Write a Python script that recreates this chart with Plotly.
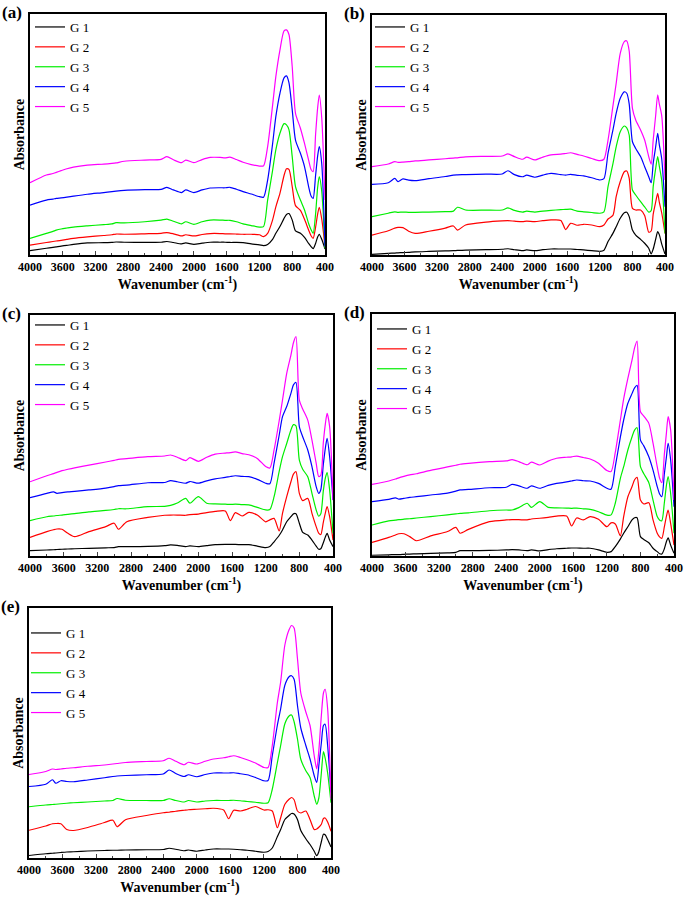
import plotly.graph_objects as go

# ---------------- data ----------------
wavenumber = [4000, 3800, 3720, 3680, 3620, 3550, 3470, 3300, 3100, 3000,
              2950, 2850, 2600, 2400, 2330, 2250, 2150, 2100, 2000, 1900,
              1800, 1680, 1620, 1560, 1480, 1400, 1300, 1200, 1150, 1100,
              1040, 1000, 950, 900, 870, 840, 800, 760, 700, 650,
              600, 570, 545, 515, 490, 470, 440, 400]

series_names = ["G 1", "G 2", "G 3", "G 4", "G 5"]
panel_labels = ["(a)", "(b)", "(c)", "(d)", "(e)"]
tick_vals = [4000, 3600, 3200, 2800, 2400, 2000, 1600, 1200, 800, 400]
tick_text = ["4000", "3600", "3200", "2800", "2400", "2000", "1600", "1200", "800", "400"]

# panel (a)
a_g1 = [1.8, 2.8, 3.2, 3.4, 3.7, 4.0, 4.4, 5.0, 5.1, 5.2, 5.4, 5.3, 5.2, 5.3, 5.6, 5.2, 4.6, 5.0, 4.4, 4.9,
        5.3, 5.3, 5.3, 5.2, 5.2, 5.1, 4.6, 4.2, 3.9, 4.4, 6.5, 9.0, 11.8, 15.2, 16.8, 17.2, 14.5, 10.0, 9.0, 7.3,
        4.8, 3.5, 2.6, 4.8, 7.5, 8.6, 6.5, 2.5]
a_g2 = [4.1, 5.2, 5.6, 5.8, 6.1, 6.5, 6.9, 7.5, 8.1, 8.4, 8.7, 8.6, 8.8, 9.0, 9.3, 8.8, 7.9, 8.4, 7.9, 8.5,
        8.9, 8.9, 8.8, 8.8, 8.7, 8.6, 8.6, 8.4, 7.6, 9.0, 14.5, 20.0, 25.6, 33.0, 35.8, 35.5, 28.4, 20.5, 18.5, 14.8,
        10.4, 8.0, 6.9, 11.5, 17.0, 19.8, 15.0, 3.5]
a_g3 = [6.9, 9.0, 9.8, 10.3, 10.8, 11.2, 11.6, 12.1, 12.6, 12.9, 13.4, 13.3, 13.8, 14.5, 14.9, 14.0, 12.9, 13.8, 12.7, 13.8,
        14.5, 14.5, 14.4, 14.4, 13.8, 12.9, 12.2, 11.6, 11.8, 22.8, 35.0, 43.6, 50.5, 54.5, 54.0, 52.0, 40.8, 28.4, 22.8, 18.7,
        13.1, 10.5, 9.0, 17.0, 28.0, 32.5, 26.5, 2.8]
a_g4 = [20.7, 22.8, 23.2, 23.5, 23.7, 24.0, 24.4, 25.2, 25.9, 26.3, 26.5, 26.8, 27.1, 27.2, 28.1, 27.0, 25.9, 27.0, 25.9, 27.0,
        27.8, 27.9, 27.9, 28.1, 27.3, 26.3, 25.3, 24.2, 24.0, 31.1, 46.0, 57.4, 67.1, 73.5, 74.3, 71.5, 60.2, 47.7, 42.2, 36.7,
        28.4, 24.5, 23.5, 33.0, 41.0, 45.0, 38.0, 3.5]
a_g5 = [30.0, 33.2, 33.8, 34.3, 35.0, 35.8, 36.5, 37.3, 37.7, 38.0, 38.2, 38.9, 39.4, 39.7, 40.8, 39.5, 38.3, 39.4, 38.3, 39.6,
        40.5, 40.5, 40.3, 40.6, 39.6, 38.5, 37.5, 36.9, 37.0, 45.0, 62.0, 74.0, 85.0, 93.0, 93.4, 91.5, 78.1, 58.8, 52.6, 46.3,
        39.4, 35.5, 34.6, 50.0, 61.0, 66.4, 57.0, 22.8]

# panel (b)
b_g1 = [0.3, 0.7, 0.8, 0.9, 1.0, 1.1, 1.3, 1.5, 1.7, 1.8, 1.9, 2.0, 2.2, 2.4, 2.6, 2.2, 1.8, 2.1, 1.8, 2.2,
        2.5, 2.5, 2.5, 2.5, 2.3, 2.1, 1.8, 1.5, 2.0, 5.6, 9.0, 11.8, 15.3, 17.6, 17.8, 16.0, 10.4, 8.3, 6.5, 4.9,
        2.8, 0.5, 2.5, 6.5, 9.8, 8.5, 4.5, 0.4]
b_g2 = [8.3, 10.1, 11.2, 11.5, 11.4, 9.9, 9.0, 9.9, 11.2, 12.1, 10.4, 12.5, 13.7, 14.2, 14.3, 14.1, 13.9, 14.1, 13.9, 14.3,
        14.6, 14.4, 10.6, 13.2, 12.4, 12.8, 12.5, 11.8, 12.5, 15.0, 16.5, 24.3, 30.6, 34.7, 35.0, 32.0, 19.4, 18.75, 18.75, 16.5,
        9.5, 10.0, 17.0, 22.0, 25.7, 22.0, 17.5, 9.0]
b_g3 = [16.0, 17.4, 18.0, 17.8, 17.9, 17.8, 17.8, 17.9, 18.1, 18.3, 19.9, 18.75, 18.7, 18.75, 19.6, 18.6, 17.9, 18.3, 17.9, 18.3,
        18.6, 18.9, 19.0, 19.1, 18.3, 18.0, 17.7, 17.4, 18.0, 28.5, 38.0, 45.1, 51.4, 53.75, 53.0, 50.0, 27.1, 25.0, 22.2, 20.1,
        17.9, 18.5, 28.5, 36.0, 41.0, 37.0, 31.0, 9.0]
b_g4 = [29.4, 30.1, 31.9, 30.6, 31.7, 31.2, 31.0, 31.8, 32.7, 33.3, 33.4, 33.5, 33.7, 33.75, 35.1, 33.5, 32.6, 33.3, 32.4, 33.3,
        34.0, 33.5, 33.3, 33.6, 33.2, 33.0, 32.2, 31.25, 31.8, 42.4, 52.0, 59.0, 65.3, 68.0, 67.4, 63.0, 47.2, 44.4, 41.0, 36.8,
        32.6, 30.1, 38.2, 45.0, 50.7, 46.0, 40.0, 20.1]
b_g5 = [36.8, 37.9, 38.9, 38.6, 38.7, 38.9, 39.2, 39.6, 40.1, 40.4, 40.5, 40.9, 41.1, 41.25, 42.1, 41.0, 39.9, 40.8, 39.6, 40.8,
        41.7, 42.0, 42.3, 42.6, 41.9, 41.25, 40.2, 39.3, 39.9, 47.9, 62.0, 71.5, 84.0, 88.9, 89.2, 85.0, 61.1, 56.25, 52.1, 47.9,
        41.0, 37.9, 47.9, 58.0, 66.7, 63.0, 58.0, 31.25]

# panel (c)
c_g1 = [2.2, 2.5, 2.6, 2.7, 2.8, 2.9, 3.0, 3.2, 3.4, 3.5, 3.9, 3.9, 4.0, 4.3, 4.6, 4.4, 3.9, 4.2, 3.9, 4.3,
        4.7, 4.8, 4.8, 4.8, 4.7, 4.7, 4.1, 3.5, 3.9, 5.9, 8.5, 10.8, 14.2, 16.3, 17.5, 17.5, 13.6, 9.8, 8.7, 6.6,
        4.1, 2.8, 3.0, 5.5, 8.0, 9.4, 6.6, 3.9]
c_g2 = [7.7, 10.1, 10.9, 11.2, 11.1, 9.4, 8.0, 10.1, 12.2, 13.6, 11.1, 14.2, 16.0, 16.9, 17.0, 17.0, 16.9, 17.2, 17.4, 18.0,
        18.5, 18.7, 14.7, 18.0, 16.6, 18.1, 17.0, 14.2, 15.0, 15.6, 10.4, 17.7, 24.6, 30.8, 34.0, 35.0, 26.0, 23.0, 23.9, 17.7,
        12.2, 9.5, 8.9, 14.0, 18.0, 20.5, 16.3, 6.6]
c_g3 = [14.7, 16.3, 16.6, 16.8, 17.0, 17.3, 17.6, 18.3, 18.9, 19.3, 19.6, 19.6, 20.5, 20.6, 21.0, 22.0, 23.9, 21.9, 24.6, 21.9,
        21.6, 21.5, 21.4, 21.5, 21.3, 21.2, 20.2, 19.1, 19.3, 24.6, 35.0, 41.2, 46.7, 52.3, 54.5, 54.0, 39.8, 36.0, 32.9, 26.0,
        19.1, 16.5, 17.5, 27.0, 32.5, 34.6, 27.4, 9.4]
c_g4 = [24.2, 26.0, 26.6, 26.0, 26.3, 26.6, 26.8, 27.4, 28.2, 28.8, 29.2, 29.4, 30.4, 30.5, 31.3, 30.8, 30.2, 30.9, 30.2, 31.2,
        32.0, 32.6, 33.0, 33.3, 33.0, 32.9, 31.8, 30.2, 30.0, 38.5, 50.0, 57.8, 62.0, 67.5, 71.0, 72.0, 53.7, 49.5, 44.0, 37.1,
        28.8, 26.0, 27.5, 38.0, 45.0, 48.8, 41.2, 23.2]
c_g5 = [30.8, 33.3, 34.2, 34.7, 35.4, 36.0, 36.6, 37.7, 39.0, 39.7, 40.1, 40.4, 41.2, 41.5, 41.9, 41.0, 39.6, 40.8, 39.3, 41.0,
        42.3, 42.7, 42.9, 43.2, 42.5, 42.0, 40.5, 37.1, 36.5, 44.0, 56.0, 64.7, 75.8, 83.4, 88.5, 91.0, 64.7, 61.0, 56.4, 48.1,
        38.5, 33.0, 33.5, 47.0, 55.0, 59.2, 53.7, 23.2]

# panel (d)
d_g1 = [0.3, 0.5, 0.6, 0.6, 0.7, 0.8, 0.9, 1.1, 1.3, 1.5, 2.2, 2.2, 2.3, 2.5, 2.6, 2.5, 2.2, 2.5, 2.1, 2.6,
        3.0, 3.2, 3.3, 3.3, 3.2, 3.2, 2.5, 1.5, 1.8, 3.9, 7.0, 9.4, 12.1, 14.9, 15.8, 15.8, 8.0, 6.8, 5.5, 3.2,
        1.8, 0.9, 0.8, 3.0, 6.0, 7.5, 4.5, 1.1]
d_g2 = [5.6, 7.7, 8.7, 9.2, 9.2, 8.0, 6.3, 8.3, 10.1, 11.8, 9.4, 11.0, 14.2, 14.9, 15.0, 15.0, 14.9, 15.3, 15.6, 16.0,
        16.5, 16.5, 12.4, 15.7, 14.9, 16.3, 15.2, 12.1, 13.7, 13.2, 8.3, 16.3, 24.5, 28.7, 31.5, 32.5, 23.1, 21.5, 22.0, 14.9,
        9.4, 7.8, 7.3, 12.0, 16.5, 19.0, 13.5, 4.5]
d_g3 = [12.8, 14.5, 14.8, 15.0, 15.2, 15.4, 15.7, 16.3, 17.0, 17.4, 17.6, 17.8, 18.7, 19.0, 19.0, 20.0, 21.8, 20.1, 22.5, 20.1,
        19.9, 19.8, 19.7, 19.8, 19.5, 19.3, 18.3, 16.9, 17.0, 21.8, 32.0, 36.9, 43.8, 49.3, 52.0, 53.0, 36.9, 34.0, 30.3, 23.1,
        16.3, 14.8, 14.6, 22.0, 29.3, 32.8, 25.9, 9.4]
d_g4 = [22.5, 23.4, 24.0, 23.5, 23.8, 24.2, 24.5, 25.2, 26.0, 26.8, 27.3, 27.5, 28.2, 28.4, 29.6, 29.0, 28.0, 29.0, 28.0, 29.2,
        30.0, 30.6, 31.0, 31.4, 31.1, 31.0, 30.0, 28.0, 27.6, 36.9, 49.0, 56.2, 63.1, 67.2, 69.5, 70.5, 47.9, 45.5, 41.0, 35.5,
        28.7, 25.5, 24.5, 34.0, 41.0, 46.6, 39.7, 20.4]
d_g5 = [29.6, 31.0, 31.8, 32.3, 32.9, 33.5, 34.0, 35.4, 36.8, 37.5, 37.9, 38.3, 39.0, 39.3, 39.8, 39.0, 37.7, 38.8, 37.6, 39.2,
        40.4, 40.8, 41.0, 41.3, 40.7, 40.1, 38.3, 35.3, 34.9, 42.8, 56.0, 64.9, 73.4, 81.0, 86.0, 88.8, 59.6, 57.8, 54.8, 46.6,
        36.9, 32.0, 30.3, 42.0, 51.0, 57.6, 52.1, 23.1]

# panel (e)
e_g1 = [1.0, 1.7, 1.9, 2.0, 2.2, 2.4, 2.5, 2.8, 3.0, 3.1, 3.1, 3.2, 3.3, 3.4, 3.9, 3.5, 2.9, 3.2, 2.7, 3.2,
        3.6, 3.6, 3.6, 3.5, 3.3, 3.1, 2.7, 2.3, 2.6, 4.0, 8.5, 11.4, 15.4, 17.0, 17.8, 17.6, 15.4, 11.0, 7.7, 5.4,
        2.7, 0.9, 2.5, 6.5, 9.5, 9.3, 7.4, 4.4]
e_g2 = [11.1, 12.8, 13.7, 13.8, 13.7, 11.4, 11.0, 12.2, 14.2, 15.1, 12.5, 15.3, 17.0, 18.1, 18.3, 18.7, 19.1, 19.3, 19.5, 19.7,
        19.9, 19.2, 15.7, 19.1, 18.8, 19.5, 20.6, 19.2, 19.3, 18.8, 12.1, 16.1, 21.5, 23.5, 24.2, 23.3, 18.8, 18.0, 18.8, 15.4,
        11.4, 11.6, 12.3, 13.5, 15.8, 16.0, 14.4, 10.7]
e_g3 = [20.5, 21.2, 21.4, 21.5, 21.7, 21.9, 22.1, 22.4, 22.8, 23.0, 23.8, 23.1, 23.0, 23.0, 23.7, 23.0, 22.4, 23.0, 22.4, 22.8,
        23.0, 23.0, 23.0, 23.1, 22.9, 22.6, 22.3, 21.9, 22.1, 27.5, 38.0, 45.0, 53.7, 56.8, 57.2, 54.5, 47.7, 39.5, 34.9, 32.2,
        24.8, 21.5, 24.0, 34.0, 42.6, 40.0, 34.0, 22.1]
e_g4 = [28.6, 29.5, 31.3, 29.9, 30.9, 30.6, 30.5, 31.2, 32.1, 32.6, 32.8, 33.0, 33.3, 33.6, 35.2, 33.8, 32.6, 33.3, 32.5, 33.4,
        34.0, 34.0, 34.0, 34.1, 33.7, 33.3, 32.2, 30.9, 31.0, 40.9, 53.0, 59.7, 69.1, 72.5, 72.9, 71.5, 61.1, 52.0, 45.0, 39.6,
        32.9, 30.2, 37.0, 46.0, 53.0, 53.5, 45.0, 26.2]
e_g5 = [33.4, 34.6, 35.6, 35.4, 35.6, 35.9, 36.1, 36.7, 37.2, 37.6, 37.8, 38.2, 38.6, 38.9, 39.9, 38.7, 37.3, 38.3, 37.6, 38.7,
        39.6, 40.1, 40.5, 40.9, 40.2, 39.3, 38.0, 36.2, 36.2, 45.0, 62.0, 70.5, 85.2, 91.3, 93.0, 92.0, 79.9, 66.0, 58.4, 53.0,
        40.9, 35.6, 43.0, 57.0, 66.0, 67.5, 59.7, 23.5]

panels = [
    [a_g1, a_g2, a_g3, a_g4, a_g5],
    [b_g1, b_g2, b_g3, b_g4, b_g5],
    [c_g1, c_g2, c_g3, c_g4, c_g5],
    [d_g1, d_g2, d_g3, d_g4, d_g5],
    [e_g1, e_g2, e_g3, e_g4, e_g5],
]

# ---------------- styling / layout ----------------
W, H = 685, 898
colors = ["#000000", "#ff0000", "#00ee00", "#0000ff", "#ff00ff"]
SERIF = "Liberation Serif, Times New Roman, serif"

# panel frames in pixels: (left, top, right, bottom)
frames = [(30, 14, 325, 255), (372, 15, 665, 255),
          (30, 315, 333, 556), (372, 314, 674, 556),
          (29, 608, 331, 858)]
# legend top-left in pixels
legend_pos = [(30, 12), (370, 12), (30, 310), (372, 314), (26, 618)]

fig = go.Figure()
layout = dict(width=W, height=H, margin=dict(l=0, r=0, t=0, b=0, autoexpand=False),
              paper_bgcolor="white", plot_bgcolor="white",
              font=dict(family=SERIF, color="black"), annotations=[])

for p, (series, (l, t, r, b)) in enumerate(zip(panels, frames)):
    sfx = "" if p == 0 else str(p + 1)
    leg = "legend" if p == 0 else f"legend{p + 1}"
    for k, vals in enumerate(series):
        fig.add_trace(go.Scatter(
            x=wavenumber, y=vals, mode="lines", name=series_names[k],
            line=dict(color=colors[k], width=1.2, shape="spline", smoothing=0.7),
            xaxis="x" + sfx, yaxis="y" + sfx, legend=leg, hoverinfo="skip"))
    layout["xaxis" + sfx] = dict(
        domain=[l / W, r / W], anchor="y" + sfx, range=[4000, 400], automargin=False,
        tickvals=tick_vals, ticktext=["<b>%s</b>" % s for s in tick_text],
        ticks="inside", ticklen=4, tickwidth=1.2,
        minor=dict(ticks="inside", ticklen=2, dtick=200, tick0=400, tickwidth=1),
        showline=True, linewidth=1.8, linecolor="black", mirror=True,
        showgrid=False, zeroline=False,
        tickfont=dict(family=SERIF, size=12, color="black"),
        title=dict(text="<b>Wavenumber (cm<sup>-1</sup>)</b>", standoff=4,
                   font=dict(family=SERIF, size=14, color="black")))
    layout["yaxis" + sfx] = dict(
        domain=[1 - b / H, 1 - t / H], anchor="x" + sfx, range=[0, 100], automargin=False,
        showticklabels=False, ticks="", showline=True, linewidth=1.8,
        linecolor="black", mirror=True, showgrid=False, zeroline=False,
        title=dict(text="<b>Absorbance</b>", standoff=0,
                   font=dict(family=SERIF, size=14, color="black")))
    lx, ly = legend_pos[p]
    layout[leg] = dict(x=lx / W, y=1 - ly / H, xanchor="left", yanchor="top",
                       bgcolor="rgba(0,0,0,0)", borderwidth=0,
                       font=dict(family=SERIF, size=13, color="black"),
                       itemclick=False, itemdoubleclick=False, tracegroupgap=0)
    layout["annotations"].append(dict(
        text="<b>%s</b>" % panel_labels[p], xref="paper", yref="paper",
        x=(l - 30) / W, y=1 - (t - 13) / H,
        xanchor="left", yanchor="top", showarrow=False,
        font=dict(family=SERIF, size=17, color="black")))

fig.update_layout(**layout)
fig.write_html("out.html", config={"displayModeBar": False},
               post_script="document.body.style.margin='0';document.body.style.padding='0';")
